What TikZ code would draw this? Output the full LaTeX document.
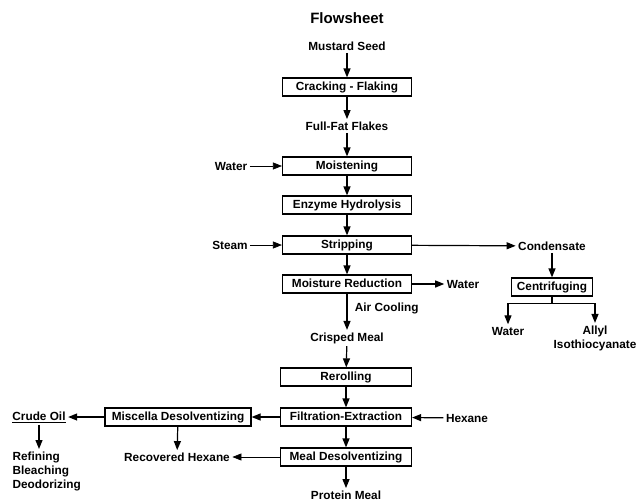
\documentclass[tikz,border=0pt]{standalone}
\usepackage{fontspec}
\setmainfont{Liberation Sans}
\usetikzlibrary{arrows.meta}

\tikzset{
  procbox/.style={draw=black,line width=1.2pt,minimum width=129pt,minimum height=18pt,inner sep=0pt,
    text height=8.3pt,text depth=0.5pt},
  stream/.style={inner sep=2pt},
}

\begin{document}
\begin{tikzpicture}[->,>={Triangle[length=9pt,width=7pt]},line width=1.2pt,x=1pt,y=-1pt,
    font=\bfseries\fontsize{11.8}{14}\selectfont]
                \useasboundingbox (0,0) rectangle (636,503);
                \node[font=\bfseries\fontsize{15}{17}\selectfont](Title)at(347, 18){Flowsheet};
                \node[stream](Seed)at(347, 46){Mustard Seed};
                \node[procbox](Crack)at(347, 87){Cracking - Flaking};
                \node[stream](Flakes)at(347, 126){Full-Fat Flakes};
                \node[procbox](Moist)at(347, 166){Moistening};
                \node[stream](WaterIn)at(231, 166){Water};
                \node[procbox](Enzyme)at(347, 205){Enzyme Hydrolysis};
                \node[procbox](Strip)at(347, 245){Stripping};
                \node[stream](Steam)at(230, 245){Steam};
                \node[stream](Cond)at(552, 246){Condensate};
                \node[procbox](Reduce)at(347, 284){Moisture Reduction};
                \node[stream](WaterOut)at(463, 284){Water};
                \node[procbox,minimum width=81pt](Centri)at(552, 287){Centrifuging};
                \node[stream](WaterSep)at(508, 331){Water};
                \node[stream,align=center](Allyl)at(595, 338){Allyl\\Isothiocyanate};
                \node[stream](Crisped)at(347, 338){Crisped Meal};
                \node[procbox,minimum width=131pt](Reroll)at(346, 377){Rerolling};
                \node[procbox,minimum width=131pt](Filt)at(346, 417){Filtration-Extraction};
                \node[stream](Hexane)at(467, 418){Hexane};
                \node[procbox,minimum width=146pt](Misc)at(178, 417){Miscella Desolventizing};
                \node[stream](Crude)at(39, 417){\underline{Crude Oil}};
                \node[stream,align=left,anchor=north west](Refine)at(10, 449){Refining\\Bleaching\\Deodorizing};
                \node[stream](RecHex)at(177, 457){Recovered Hexane};
                \node[procbox,minimum width=131pt](MealDes)at(346, 457){Meal Desolventizing};
                \node[stream](Protein)at(346, 495){Protein Meal};
                \path (Seed) edge (Crack)
                (Crack) edge (Flakes)
                (Flakes) edge (Moist)
                (WaterIn) edge[line width=0.7pt] (Moist)
                (Moist) edge (Enzyme)
                (Enzyme) edge (Strip)
                (Steam) edge[line width=0.7pt] (Strip)
                (Strip) edge (Cond)
                (Strip) edge (Reduce)
                (Reduce) edge (WaterOut)
                (Cond) edge (Centri)
                (Reduce) edge node[right,pos=0.4,xshift=4pt]{Air Cooling} (Crisped)
                (Crisped) edge (Reroll)
                (Reroll) edge (Filt)
                (Hexane) edge (Filt)
                (Filt) edge (Misc)
                (Misc) edge (Crude)
                (Crude) edge (Crude |- Refine.north)
                (Misc) edge (RecHex)
                (Filt) edge (MealDes)
                (MealDes) edge[line width=0.7pt] (RecHex)
                (MealDes) edge (Protein);
                \draw[-] (Centri.south) -- ++(0,7) coordinate (Split);
                \draw (Split) -| (WaterSep.north);
                \draw (Split) -| (Allyl.north);
            \end{tikzpicture}
\end{document}
